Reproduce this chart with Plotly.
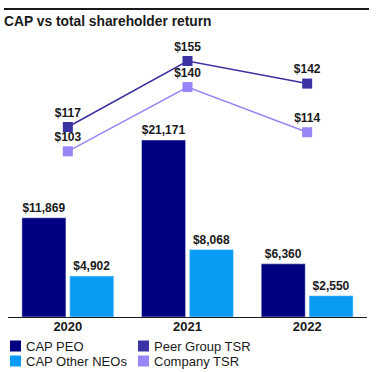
import plotly.graph_objects as go

years = ["2020", "2021", "2022"]
cap_peo = [11869, 21171, 6360]
cap_neo = [4902, 8068, 2550]
peer_tsr = [117, 155, 142]
company_tsr = [103, 140, 114]

legend_names = ["CAP PEO", "CAP Other NEOs", "Peer Group TSR", "Company TSR"]

C_PEO = "#000080"
C_NEO = "#0a9cf5"
C_PEER = "#3b32a3"
C_COMP = "#9786f6"
legend_colors = [C_PEO, C_NEO, C_PEER, C_COMP]
FONT = "Liberation Sans"
TXT = "#1a1a1a"
W, H = 379, 372

def px(x):
    return x / W

def py(y):
    return 1 - y / H

def money(v):
    return [f"<b>${x:,}</b>" for x in v]

fig = go.Figure()
fig.add_trace(go.Bar(x=years, y=cap_peo, name="CAP PEO", marker_color=C_PEO,
                     text=money(cap_peo), textposition="outside", cliponaxis=False,
                     textfont=dict(size=12, color=TXT)))
fig.add_trace(go.Bar(x=years, y=cap_neo, name="CAP Other NEOs", marker_color=C_NEO,
                     text=money(cap_neo), textposition="outside", cliponaxis=False,
                     textfont=dict(size=12, color=TXT)))
fig.add_trace(go.Scatter(x=years, y=peer_tsr, name="Peer Group TSR", yaxis="y2",
                         mode="lines+markers+text", line=dict(color=C_PEER, width=1.5),
                         marker=dict(symbol="square", size=10, color=C_PEER),
                         text=money(peer_tsr), textposition="top center",
                         textfont=dict(size=12, color=TXT), cliponaxis=False))
fig.add_trace(go.Scatter(x=years, y=company_tsr, name="Company TSR", yaxis="y2",
                         mode="lines+markers+text", line=dict(color=C_COMP, width=1.5),
                         marker=dict(symbol="square", size=10, color=C_COMP),
                         text=money(company_tsr), textposition="top center",
                         textfont=dict(size=12, color=TXT), cliponaxis=False))

fig.update_layout(
    width=W, height=H,
    margin=dict(l=0, r=0, t=0, b=0, autoexpand=False),
    paper_bgcolor="white", plot_bgcolor="white",
    font=dict(family=FONT, size=13, color=TXT),
    barmode="group", bargap=0.2, bargroupgap=0.08,
    showlegend=False,
    xaxis=dict(domain=[px(8), px(367)], showline=True, linecolor=TXT, linewidth=1,
               ticks="", tickfont=dict(size=13), tickprefix="<b>", ticksuffix="</b>",
               ticklabelstandoff=-3, automargin=False),
    yaxis=dict(visible=False, domain=[py(317), py(40)], range=[0, 33134]),
    yaxis2=dict(visible=False, overlaying="y", range=[7.6, 167.1]),
)

# title
fig.add_annotation(text="<b>CAP vs total shareholder return</b>", xref="paper", yref="paper",
                   x=px(1.5), y=py(22), xanchor="left", yanchor="middle", showarrow=False,
                   font=dict(size=13.8, color=TXT))
# top rule (thick enough to survive rendering)
fig.add_shape(type="rect", xref="paper", yref="paper", x0=px(4), x1=px(369),
              y0=py(10), y1=py(8), fillcolor=TXT, line=dict(width=0), layer="above")

# legend (2 columns)
cols_x = [10, 138]
rows_y = [346, 361]
for i, (nm, col) in enumerate(zip(legend_names, legend_colors)):
    cx = cols_x[i // 2]
    cy = rows_y[i % 2]
    fig.add_shape(type="rect", xref="paper", yref="paper",
                  x0=px(cx), x1=px(cx + 11), y0=py(cy - 5.5), y1=py(cy + 5.5),
                  fillcolor=col, line=dict(width=0))
    fig.add_annotation(text=nm, xref="paper", yref="paper", x=px(cx + 14), y=py(cy),
                       xanchor="left", yanchor="middle", showarrow=False,
                       font=dict(size=13, color=TXT))

fig.write_html("out.html", config={"displayModeBar": False},
               post_script="document.body.style.margin='0';document.body.style.overflow='hidden';")
